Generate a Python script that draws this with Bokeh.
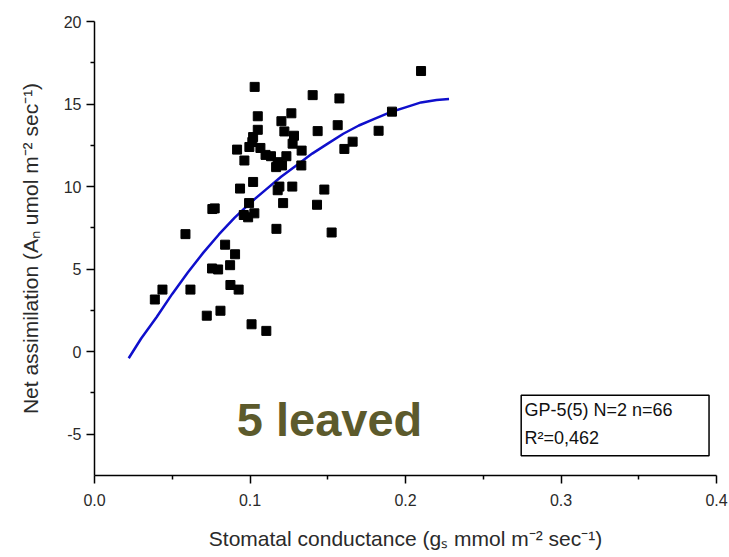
from bokeh.plotting import figure
from bokeh.models import (Range1d, FixedTicker, PrintfTickFormatter, BoxAnnotation,
                          Label, ColumnDataSource)
from bokeh.embed import file_html
from bokeh.resources import INLINE

# ---- data ----
gs = [0.103, 0.105, 0.105, 0.102, 0.0996, 0.0917, 0.0964, 0.1067, 0.110, 0.1015,
      0.102, 0.0936, 0.0758, 0.0773, 0.0994, 0.0960, 0.0988, 0.1028, 0.0585, 0.084,
      0.0904, 0.0872, 0.0756, 0.0795, 0.0437, 0.0388, 0.0617, 0.0874, 0.0927, 0.0722,
      0.081, 0.101, 0.1105, 0.1403, 0.1575, 0.1266, 0.1202, 0.1221, 0.1435, 0.1564,
      0.1283, 0.1274, 0.1827, 0.1913, 0.166, 0.1607, 0.1332, 0.1135, 0.1178, 0.1234,
      0.1168, 0.1206, 0.133, 0.1189, 0.1178, 0.1272, 0.1478, 0.1213, 0.1431, 0.117,
      0.1525, 0.210]
an = [16.04, 14.26, 13.44, 13.0, 12.4, 12.24, 11.58, 12.34, 11.92, 12.7,
      10.28, 9.88, 8.64, 8.68, 9.0, 8.28, 8.14, 8.38, 7.12, 6.48,
      5.9, 5.24, 5.04, 4.98, 3.76, 3.16, 3.76, 4.04, 3.76, 2.18,
      2.48, 1.66, 1.26, 15.54, 15.34, 14.44, 13.96, 13.34, 13.36, 13.72,
      13.08, 12.6, 13.38, 14.54, 12.72, 12.28, 12.18, 11.84, 11.48, 11.84,
      11.18, 11.28, 11.28, 10.0, 9.78, 10.0, 9.82, 9.0, 8.9, 7.44,
      7.22, 17.0]

fit_x = [0.022, 0.03, 0.04, 0.05, 0.06, 0.07, 0.08, 0.09, 0.10, 0.11, 0.12,
         0.13, 0.14, 0.15, 0.16, 0.17, 0.18, 0.19, 0.20, 0.21, 0.22, 0.228]
fit_y = [-0.4, 0.8, 2.1, 3.5, 4.8, 6.0, 7.1, 8.1, 9.0, 9.8, 10.6,
         11.3, 12.0, 12.6, 13.2, 13.7, 14.1, 14.5, 14.8, 15.1, 15.25, 15.3]

x_ticks = [0.0, 0.1, 0.2, 0.3, 0.4]
x_minor = [0.05, 0.15, 0.25, 0.35]
y_ticks = [-5, 0, 5, 10, 15, 20]
y_minor = [-2.5, 2.5, 7.5, 12.5, 17.5]

FONT = "Liberation Sans"

p = figure(width=729, height=552, output_backend="svg", toolbar_location=None,
           x_range=Range1d(0, 0.4), y_range=Range1d(-7.5, 20),
           min_border_left=94, min_border_right=13, min_border_top=21,
           min_border_bottom=74)
p.outline_line_color = None
p.xgrid.visible = False
p.ygrid.visible = False
p.background_fill_color = "white"
p.border_fill_color = "white"

src = ColumnDataSource(dict(x=gs, y=an))
p.line(fit_x, fit_y, line_color="#0f0fcc", line_width=2.5)
p.scatter("x", "y", source=src, marker="square", size=9, fill_color="black",
          line_color="black")

for ax in (p.xaxis[0], p.yaxis[0]):
    ax.axis_line_color = "black"
    ax.axis_line_width = 1.5
    ax.major_tick_line_color = "black"
    ax.major_tick_line_width = 1.5
    ax.minor_tick_line_color = "black"
    ax.minor_tick_line_width = 1.5
    ax.major_tick_in = 0
    ax.major_tick_out = 8
    ax.minor_tick_in = 0
    ax.minor_tick_out = 4
    ax.major_label_text_font = FONT
    ax.major_label_text_font_size = "16px"
    ax.major_label_text_color = "#2a2a2a"
    ax.axis_label_text_font = FONT
    ax.axis_label_text_font_size = "21px"
    ax.axis_label_text_font_style = "normal"
    ax.axis_label_text_color = "#2a2a2a"

p.xaxis.ticker = FixedTicker(ticks=x_ticks, minor_ticks=x_minor)
p.yaxis.ticker = FixedTicker(ticks=y_ticks, minor_ticks=y_minor)
p.xaxis.formatter = PrintfTickFormatter(format="%.1f")
p.yaxis.formatter = PrintfTickFormatter(format="%d")
p.xaxis.major_label_standoff = 10
p.yaxis.major_label_standoff = 5
p.xaxis.axis_label = "Stomatal conductance (gₛ mmol m⁻² sec⁻¹)"
p.yaxis.axis_label = "Net assimilation (Aₙ umol m⁻² sec⁻¹)"
p.xaxis.axis_label_standoff = 18
p.yaxis.axis_label_standoff = 19

box = BoxAnnotation(left=0.2744, right=0.3952, top=-2.64, bottom=-6.30,
                    fill_color="white", fill_alpha=1.0, line_color="black",
                    line_width=1.5, line_alpha=1.0)
p.add_layout(box)
p.add_layout(Label(x=0.2765, y=-3.55, text="GP-5(5) N=2 n=66", text_baseline="middle",
                   text_font=FONT, text_font_size="18px", text_color="#111111"))
p.add_layout(Label(x=0.2765, y=-5.25, text="R²=0,462", text_baseline="middle",
                   text_font=FONT, text_font_size="18px", text_color="#111111"))
p.add_layout(Label(x=0.0915, y=-4.1, text="5 leaved", text_baseline="middle",
                   text_font=FONT, text_font_size="47px", text_font_style="bold",
                   text_color="#5c5a2c"))

open("out.html", "w").write(file_html(p, INLINE))
